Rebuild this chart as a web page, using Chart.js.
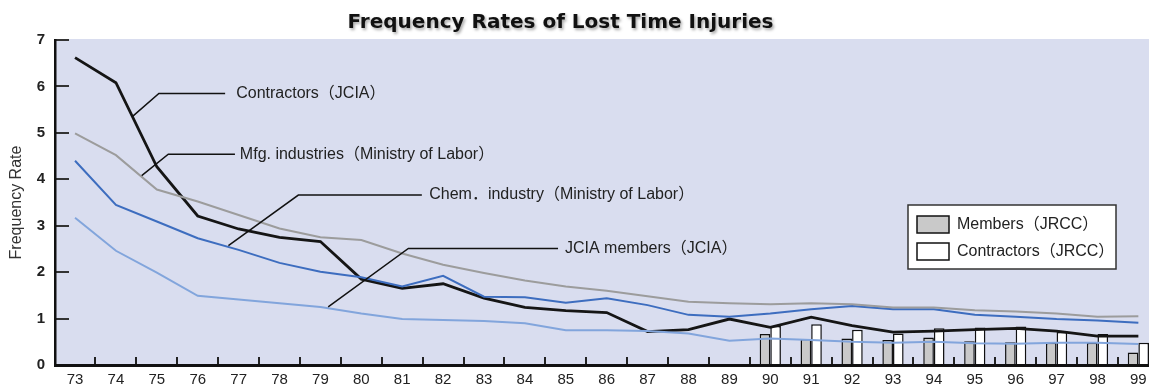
<!DOCTYPE html>
<html>
<head>
<meta charset="utf-8">
<title>Frequency Rates of Lost Time Injuries</title>
<script src="https://cdn.jsdelivr.net/npm/chart.js@4.4.1/dist/chart.umd.min.js"></script>
<style>
  html, body { margin: 0; padding: 0; background: #fff; overflow: hidden; }
  #wrap { width: 1149px; height: 386px; position: relative; }
</style>
</head>
<body>
<div id="wrap"><canvas id="injuryChart"></canvas></div>
<script>
// Fiscal years 1973-1999
const years = [73, 74, 75, 76, 77, 78, 79, 80, 81, 82, 83, 84, 85, 86, 87, 88, 89, 90, 91, 92, 93, 94, 95, 96, 97, 98, 99];

// Line series (frequency rate)
const contractorsJCIA = [6.62, 6.08, 4.27, 3.21, 2.93, 2.75, 2.66, 1.85, 1.65, 1.75, 1.44, 1.24, 1.17, 1.13, 0.72, 0.76, 0.99, 0.81, 1.03, 0.85, 0.71, 0.73, 0.76, 0.79, 0.73, 0.62, 0.62];
const mfgIndustries   = [4.99, 4.52, 3.78, 3.52, 3.23, 2.94, 2.75, 2.69, 2.40, 2.16, 1.98, 1.82, 1.69, 1.60, 1.48, 1.36, 1.33, 1.31, 1.33, 1.31, 1.24, 1.24, 1.18, 1.15, 1.11, 1.04, 1.05];
const chemIndustry    = [4.40, 3.45, 3.09, 2.73, 2.48, 2.20, 2.01, 1.89, 1.69, 1.92, 1.47, 1.46, 1.34, 1.44, 1.29, 1.08, 1.04, 1.11, 1.20, 1.27, 1.20, 1.20, 1.08, 1.04, 0.99, 0.96, 0.91];
const membersJCIA     = [3.17, 2.46, 1.99, 1.49, 1.41, 1.33, 1.25, 1.11, 0.99, 0.97, 0.95, 0.90, 0.75, 0.75, 0.73, 0.68, 0.52, 0.57, 0.54, 0.50, 0.48, 0.50, 0.47, 0.46, 0.48, 0.48, 0.45];

// JRCC bars, 1990-1999
const barYears        = [90, 91, 92, 93, 94, 95, 96, 97, 98, 99];
const membersJRCC     = [0.67, 0.56, 0.57, 0.54, 0.59, 0.51, 0.49, 0.48, 0.48, 0.27];
const contractorsJRCC = [0.84, 0.88, 0.76, 0.68, 0.79, 0.81, 0.83, 0.71, 0.67, 0.48];

const FONT = "'Liberation Sans', 'Noto Sans CJK JP', Arial, sans-serif";

// callout labels with their leader lines (year, rate)
const callouts = [
  { text: 'Contractors（JCIA）', path: [[74.40, 5.35], [75.05, 5.85], [76.67, 5.85]], textAt: 76.94 },
  { text: 'Mfg. industries（Ministry of Labor）', path: [[74.63, 4.08], [75.28, 4.54], [76.91, 4.54]], textAt: 77.03 },
  { text: 'Chem．industry（Ministry of Labor）', path: [[76.75, 2.57], [78.46, 3.66], [81.48, 3.66]], textAt: 81.66 },
  { text: 'JCIA members（JCIA）', path: [[79.19, 1.25], [81.15, 2.51], [84.81, 2.51]], textAt: 84.98 }
];

const toPoints = (xs, ys) => xs.map((x, i) => ({ x: x, y: ys[i] }));

// keep the plot edges fixed: no extra room for edge tick labels
const noEdgePadding = s => {
  s.paddingLeft = 0; s.paddingRight = 0;
  s.paddingTop = 0; s.paddingBottom = 0;
};

const plotBackground = {
  id: 'plotBackground',
  beforeDraw(chart) {
    const { ctx, chartArea: a } = chart;
    ctx.save();
    ctx.fillStyle = '#fff';
    ctx.fillRect(0, 0, chart.width, chart.height);
    ctx.fillStyle = '#d9ddef';
    ctx.fillRect(a.left, a.top - 1, a.right - a.left, a.bottom - a.top + 1);
    ctx.restore();
  }
};

const chartTitle = {
  id: 'chartTitle',
  afterDraw(chart) {
    const ctx = chart.ctx;
    ctx.save();
    ctx.font = "bold 20px 'DejaVu Sans', sans-serif";
    ctx.fillStyle = '#111';
    ctx.textAlign = 'center';
    ctx.textBaseline = 'middle';
    ctx.shadowColor = 'rgba(0,0,0,0.35)';
    ctx.shadowBlur = 3;
    ctx.shadowOffsetX = 1.5;
    ctx.shadowOffsetY = 1.5;
    ctx.fillText('Frequency Rates of Lost Time Injuries', chart.width / 2 - 14, 23);
    ctx.restore();
  }
};

const calloutLabels = {
  id: 'calloutLabels',
  afterDatasetsDraw(chart) {
    const { ctx, scales: { x, y } } = chart;
    ctx.save();
    ctx.strokeStyle = '#111';
    ctx.lineWidth = 1.5;
    ctx.fillStyle = '#222';
    ctx.font = '16px ' + FONT;
    ctx.textBaseline = 'middle';
    callouts.forEach(c => {
      ctx.beginPath();
      c.path.forEach((p, i) => {
        const px = x.getPixelForValue(p[0]);
        const py = y.getPixelForValue(p[1]);
        if (i === 0) ctx.moveTo(px, py); else ctx.lineTo(px, py);
      });
      ctx.stroke();
      const last = c.path[c.path.length - 1];
      ctx.fillText(c.text, x.getPixelForValue(c.textAt), y.getPixelForValue(last[1]));
    });
    ctx.restore();
  }
};

// boxed legend for the bar series only
const barLegend = {
  id: 'barLegend',
  afterDatasetsDraw(chart) {
    const { ctx, chartArea: a } = chart;
    const bars = chart.data.datasets.filter(d => d.type === 'bar');
    const left = a.right - 241, top = 205, w = 208, h = 64;
    ctx.save();
    ctx.fillStyle = '#fff';
    ctx.fillRect(left, top, w, h);
    ctx.strokeStyle = '#333';
    ctx.lineWidth = 1.5;
    ctx.strokeRect(left, top, w, h);
    ctx.font = '16px ' + FONT;
    ctx.textBaseline = 'middle';
    bars.forEach((d, i) => {
      const ry = top + 11 + i * 27;
      ctx.fillStyle = d.backgroundColor;
      ctx.fillRect(left + 9, ry, 32, 17);
      ctx.strokeStyle = '#111';
      ctx.strokeRect(left + 9, ry, 32, 17);
      ctx.fillStyle = '#222';
      ctx.fillText(d.label, left + 49, ry + 9);
    });
    ctx.restore();
  }
};

const lineSet = (label, values, color, width) => ({
  type: 'line',
  label: label,
  data: toPoints(years, values),
  borderColor: color,
  borderWidth: width,
  pointRadius: 0,
  tension: 0,
  fill: false,
  order: 1
});

new Chart(document.getElementById('injuryChart'), {
  data: {
    datasets: [
      {
        type: 'bar', label: 'Members（JRCC）', data: toPoints(barYears, membersJRCC),
        backgroundColor: '#c9c9c9', borderColor: '#111', borderWidth: 1.5,
        categoryPercentage: 0.52, barPercentage: 1, order: 2
      },
      {
        type: 'bar', label: 'Contractors（JRCC）', data: toPoints(barYears, contractorsJRCC),
        backgroundColor: '#ffffff', borderColor: '#111', borderWidth: 1.5,
        categoryPercentage: 0.52, barPercentage: 1, order: 2
      },
      lineSet('JCIA members (JCIA)', membersJCIA, '#82a5dc', 2),
      lineSet('Mfg. industries (Ministry of Labor)', mfgIndustries, '#9c9c9c', 2),
      lineSet('Chem. industry (Ministry of Labor)', chemIndustry, '#3d6dbf', 2),
      lineSet('Contractors (JCIA)', contractorsJCIA, '#151515', 2.8)
    ]
  },
  options: {
    responsive: true,
    maintainAspectRatio: false,
    animation: false,
    layout: { padding: { top: 40, left: 0, right: 0, bottom: 0 } },
    plugins: {
      legend: { display: false },
      title: { display: false },
      tooltip: { enabled: false }
    },
    scales: {
      x: {
        type: 'linear',
        offset: false,
        min: 72.51,
        max: 99.26,
        afterBuildTicks: s => { s.ticks = years.map(v => ({ value: v })); },
        afterFit: s => { s.height = 21; noEdgePadding(s); },
        ticks: {
          autoSkip: false, maxRotation: 0, padding: 14,
          color: '#222', font: { family: FONT, size: 15 },
          callback: v => String(v)
        },
        grid: { offset: true, drawOnChartArea: false, tickLength: -8, color: '#222', lineWidth: 2 },
        border: { color: '#111', width: 3 }
      },
      y: {
        min: 0,
        max: 7,
        afterFit: s => { s.width = 55; noEdgePadding(s); },
        ticks: {
          stepSize: 1, padding: 24,
          color: '#222', font: { family: FONT, size: 15, weight: 'bold' }
        },
        grid: { drawOnChartArea: false, tickLength: -14, color: '#333', lineWidth: 2 },
        border: { color: '#111', width: 2.5 },
        title: {
          display: true, text: 'Frequency Rate', color: '#333',
          font: { family: FONT, size: 16 }, padding: { top: 7, bottom: 0 }
        }
      }
    }
  },
  plugins: [plotBackground, calloutLabels, barLegend, chartTitle]
});
</script>
</body>
</html>
